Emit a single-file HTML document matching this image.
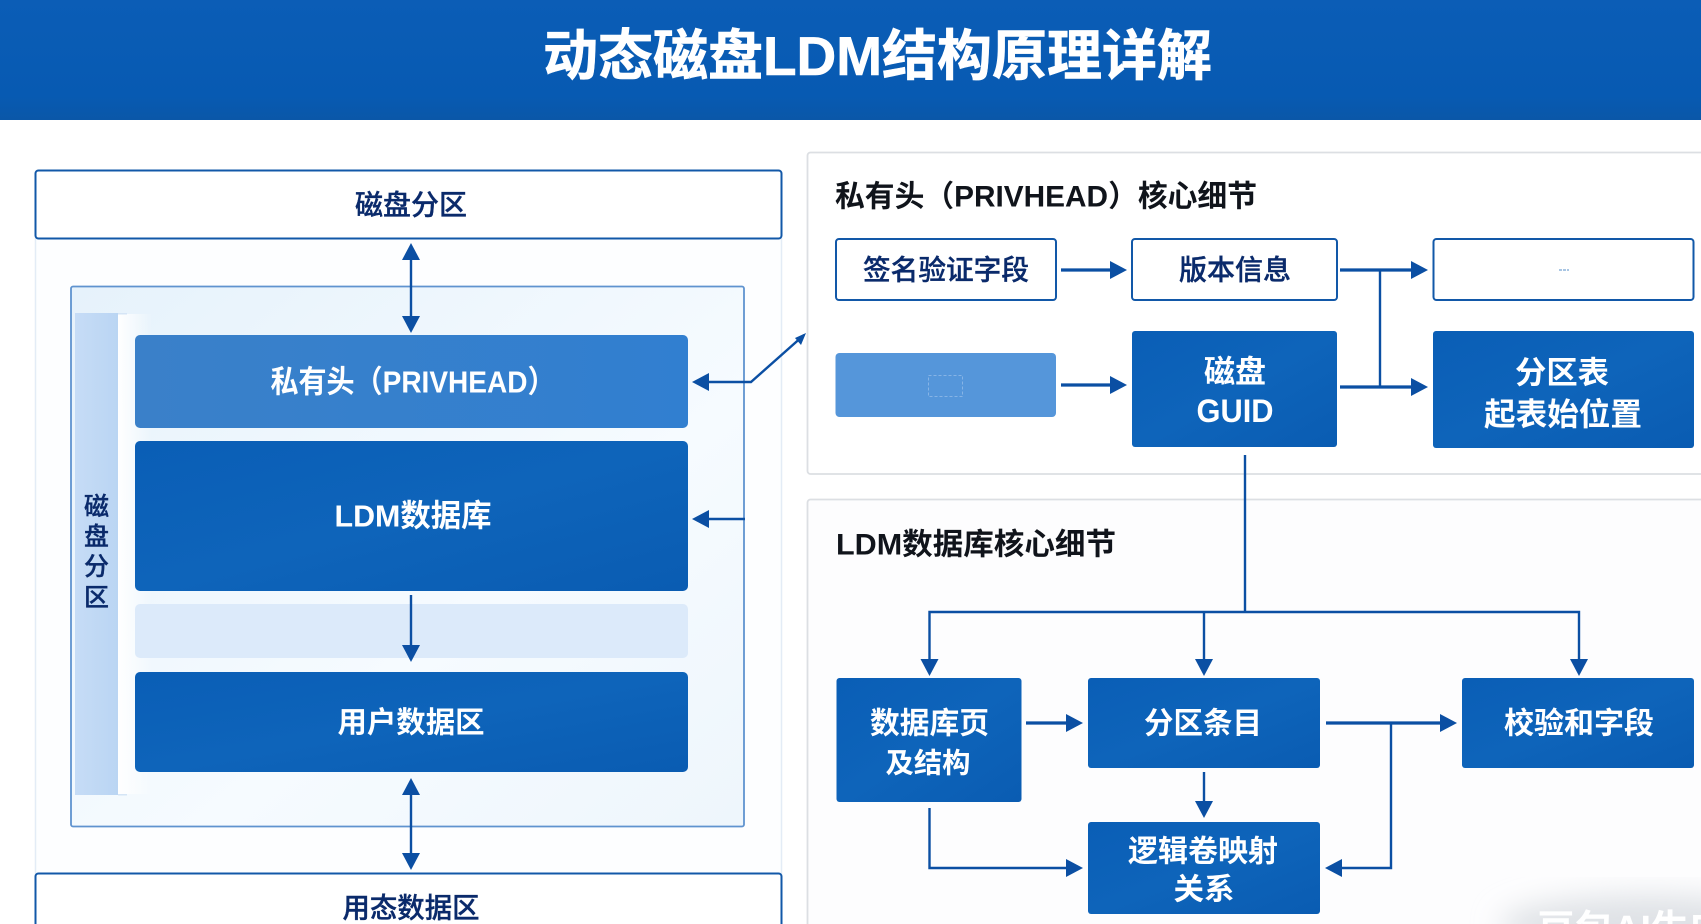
<!DOCTYPE html>
<html lang="zh"><head><meta charset="utf-8"><title>动态磁盘LDM结构原理详解</title>
<style>
html,body{margin:0;padding:0;background:#fff;width:1701px;height:924px;overflow:hidden}
svg{display:block}
text{font-family:"Liberation Sans","Noto Sans CJK SC",sans-serif;text-anchor:middle;dominant-baseline:central}
.w{fill:#fff;font-weight:700}
.n{fill:#0a2a6b;font-weight:500;stroke:#0a2a6b;stroke-width:.35}
.k{fill:#10141b;font-weight:700;text-anchor:start}
.l{stroke:#0b4fa3;stroke-width:2.4;fill:none}
.t{stroke:#0b4fa3;stroke-width:3.2;fill:none}
.o{fill:#fff;stroke:#1258a8;stroke-width:2}
.b{fill:url(#bl)}
</style></head><body>
<svg width="1701" height="924" viewBox="0 0 1701 924" xmlns="http://www.w3.org/2000/svg">
<defs>
<linearGradient id="hd" x1="0" y1="0" x2="0" y2="1"><stop offset="0" stop-color="#0b5db6"/><stop offset=".8" stop-color="#075ab2"/><stop offset="1" stop-color="#0a57a8"/></linearGradient>
<linearGradient id="bl" x1="0" y1="0" x2="1" y2="1"><stop offset="0" stop-color="#0a5eb6"/><stop offset=".5" stop-color="#0e64ba"/><stop offset="1" stop-color="#0a5cb2"/></linearGradient>
<linearGradient id="pv" x1="0" y1="0" x2="1" y2="0"><stop offset="0" stop-color="#3a80c9"/><stop offset="1" stop-color="#317fd0"/></linearGradient>
<linearGradient id="ip" x1="0" y1="0" x2="1" y2="1"><stop offset="0" stop-color="#e6f2fb"/><stop offset=".6" stop-color="#f6fbff"/><stop offset="1" stop-color="#eef6fc"/></linearGradient>
<linearGradient id="sb" x1="0" y1="0" x2="1" y2="0"><stop offset="0" stop-color="#c6dcf6"/><stop offset="1" stop-color="#bad5f3"/></linearGradient>
<linearGradient id="fd" x1="0" y1="0" x2="1" y2="0"><stop offset="0" stop-color="#fff"/><stop offset="1" stop-color="#fff" stop-opacity="0"/></linearGradient>
<filter id="bz" x="-30%" y="-30%" width="160%" height="160%"><feGaussianBlur stdDeviation="14"/></filter>
<polygon id="a" points="-17,-9 0,0 -17,9"/>
</defs>
<rect width="1701" height="924" fill="#fff"/>
<rect width="1701" height="120" fill="url(#hd)"/>
<text x="877.500" y="56" class="w" font-size="55" textLength="669" lengthAdjust="spacingAndGlyphs" stroke="#fff" stroke-width=".6">动态磁盘LDM结构原理详解</text>

<!-- left column -->
<rect x="35.500" y="238" width="746" height="640" fill="#fdfeff" stroke="#e3ecf6" stroke-width="1.500"/>
<rect x="71" y="286.500" width="673" height="540" rx="2" fill="url(#ip)" stroke="#5f93cf" stroke-width="1.800"/>
<rect x="118" y="314" width="34" height="480" fill="url(#fd)"/>
<rect x="75" y="313" width="43" height="482" fill="url(#sb)"/>
<rect x="118" y="313" width="9" height="1.500" fill="#d5e5f6"/><rect x="118" y="794" width="9" height="1.500" fill="#d5e5f6"/>
<rect x="135" y="335" width="553" height="93" rx="5" fill="url(#pv)"/>
<rect x="135" y="441" width="553" height="150" rx="5" class="b"/>
<rect x="135" y="604" width="553" height="54" rx="5" fill="#dceafa"/>
<rect x="135" y="672" width="553" height="100" rx="5" class="b"/>
<rect x="35.500" y="170.500" width="746" height="68" rx="3" class="o"/>
<rect x="35.500" y="873.500" width="746" height="70" rx="3" class="o"/>
<text x="411" y="205" class="n" font-size="28" textLength="112" lengthAdjust="spacingAndGlyphs">磁盘分区</text>
<text x="411" y="908" class="n" font-size="28" textLength="137" lengthAdjust="spacingAndGlyphs">用态数据区</text>
<text x="413" y="382" class="w" font-size="31" textLength="285" lengthAdjust="spacingAndGlyphs">私有头（PRIVHEAD）</text>
<text x="413" y="516" class="w" font-size="31" textLength="157" lengthAdjust="spacingAndGlyphs">LDM数据库</text>
<text x="411" y="723" class="w" font-size="29.500" textLength="147" lengthAdjust="spacingAndGlyphs">用户数据区</text>
<text x="96.500" y="507" class="n" font-size="25">磁</text>
<text x="96.500" y="537" class="n" font-size="25">盘</text>
<text x="96.500" y="567" class="n" font-size="25">分</text>
<text x="96.500" y="598" class="n" font-size="25">区</text>

<g fill="#0b4fa3">
<path class="l" d="M411 258V318"/><use href="#a" transform="translate(411,243) rotate(-90)"/><use href="#a" transform="translate(411,333) rotate(90)"/>
<path class="l" d="M705 382H751L804 335"/><use href="#a" transform="translate(692,382) rotate(180)"/>
<path d="M806 333l-5 12-6-7z"/>
<path class="l" d="M705 519H745"/><use href="#a" transform="translate(692,519) rotate(180)"/>
<path class="l" d="M411 595V648"/><use href="#a" transform="translate(411,662) rotate(90)"/>
<path class="l" d="M411 793V855"/><use href="#a" transform="translate(411,778) rotate(-90)"/><use href="#a" transform="translate(411,870) rotate(90)"/>
</g>

<!-- right panel 1 -->
<rect x="807.500" y="152.500" width="910" height="321.500" rx="3" fill="#fff" stroke="#dcdfe3" stroke-width="1.800"/>
<text x="835" y="197" class="k" font-size="30" textLength="422" lengthAdjust="spacingAndGlyphs">私有头（PRIVHEAD）核心细节</text>
<rect x="836" y="239" width="220" height="61" rx="3" class="o"/>
<rect x="1132" y="239" width="205" height="61" rx="3" class="o"/>
<rect x="1433.500" y="239" width="260" height="61" rx="3" class="o"/>
<text x="946" y="270" class="n" font-size="28" textLength="166" lengthAdjust="spacingAndGlyphs">签名验证字段</text>
<text x="1235" y="270" class="n" font-size="28" textLength="112" lengthAdjust="spacingAndGlyphs">版本信息</text>
<rect x="1559" y="269" width="3" height="2" fill="#a9c6e4"/><rect x="1563" y="269" width="3" height="2" fill="#a9c6e4"/><rect x="1567" y="269" width="2" height="2" fill="#a9c6e4"/>
<rect x="835.500" y="353" width="220.500" height="64" rx="4" fill="#5596da"/>
<rect x="928.500" y="375.500" width="34" height="21" fill="none" stroke="#86b4e6" stroke-width="1" stroke-dasharray="3 2"/>
<rect x="1132" y="331" width="205" height="116" rx="3" class="b"/>
<rect x="1433" y="331" width="261" height="117" rx="3" class="b"/>
<text x="1235" y="372" class="w" font-size="31" textLength="62" lengthAdjust="spacingAndGlyphs">磁盘</text>
<text x="1235" y="411" class="w" font-size="32" textLength="77" lengthAdjust="spacingAndGlyphs">GUID</text>
<text x="1562" y="373" class="w" font-size="31" textLength="94" lengthAdjust="spacingAndGlyphs">分区表</text>
<text x="1563" y="414" class="w" font-size="31.500" textLength="158" lengthAdjust="spacingAndGlyphs">起表始位置</text>

<!-- right panel 2 -->
<rect x="807.500" y="499.500" width="910" height="450" rx="3" fill="#fdfdfe" stroke="#dcdfe3" stroke-width="1.800"/>
<text x="836" y="545" class="k" font-size="30" textLength="280" lengthAdjust="spacingAndGlyphs">LDM数据库核心细节</text>
<ellipse cx="1650" cy="925" rx="150" ry="30" fill="#dfe2e6" filter="url(#bz)"/>
<rect x="836.500" y="678" width="185" height="124" rx="3" class="b"/>
<rect x="1088" y="678" width="232" height="90" rx="3" class="b"/>
<rect x="1462" y="678" width="232" height="90" rx="3" class="b"/>
<rect x="1088" y="822" width="232" height="92" rx="3" class="b"/>
<text x="929.500" y="724" class="w" font-size="30" textLength="119" lengthAdjust="spacingAndGlyphs">数据库页</text>
<text x="928" y="763" class="w" font-size="28" textLength="85" lengthAdjust="spacingAndGlyphs">及结构</text>
<text x="1203" y="724" class="w" font-size="30" textLength="118" lengthAdjust="spacingAndGlyphs">分区条目</text>
<text x="1579" y="724" class="w" font-size="30" textLength="150" lengthAdjust="spacingAndGlyphs">校验和字段</text>
<text x="1203" y="852" class="w" font-size="30" textLength="150" lengthAdjust="spacingAndGlyphs">逻辑卷映射</text>
<text x="1204" y="890" class="w" font-size="30" textLength="61" lengthAdjust="spacingAndGlyphs">关系</text>

<!-- connectors -->
<g fill="#0b4fa3">
<path class="t" d="M1061 270H1112"/><use href="#a" transform="translate(1127,270)"/>
<path class="t" d="M1340 270H1413"/><use href="#a" transform="translate(1428,270)"/>
<path class="l" d="M1380 270V386"/>
<path class="t" d="M1061 385H1112"/><use href="#a" transform="translate(1127,385)"/>
<path class="t" d="M1340 387H1413"/><use href="#a" transform="translate(1428,387)"/>
<path class="l" d="M1245 455V612"/>
<path class="l" d="M929.500 662V612H1579V662"/>
<path class="l" d="M1204 612V662"/>
<use href="#a" transform="translate(929.500,676) rotate(90)"/>
<use href="#a" transform="translate(1204,676) rotate(90)"/>
<use href="#a" transform="translate(1579,676) rotate(90)"/>
<path class="t" d="M1026 723H1068"/><use href="#a" transform="translate(1083,723)"/>
<path class="t" d="M1326 723H1442"/><use href="#a" transform="translate(1457,723)"/>
<path class="l" d="M1391 723V868H1340"/><use href="#a" transform="translate(1325,868) rotate(180)"/>
<path class="l" d="M1204 772V804"/><use href="#a" transform="translate(1204,818) rotate(90)"/>
<path class="l" d="M929.500 808V868H1068"/><use href="#a" transform="translate(1083,868)"/>
</g>
<text x="1537" y="930" font-size="38" fill="#fff" font-weight="700" style="text-anchor:start">豆包AI生成</text>
</svg>
</body></html>
